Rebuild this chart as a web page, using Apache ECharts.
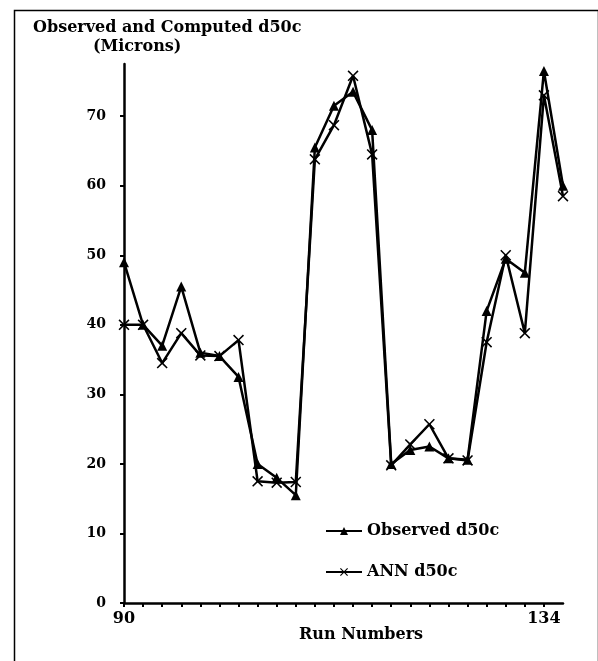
<!DOCTYPE html>
<html>
<head>
<meta charset="utf-8">
<script src="https://cdn.jsdelivr.net/npm/echarts@6/dist/echarts.min.js"></script>
<style>
  html, body { margin: 0; padding: 0; background: #fff; }
  #chart { width: 598px; height: 661px; }
</style>
</head>
<body>
<div id="chart"></div>
<script>
// run numbers (every second run is plotted)
const runs = [90, 92, 94, 96, 98, 100, 102, 104, 106, 108, 110, 112,
  114, 116, 118, 120, 122, 124, 126, 128, 130, 132, 134, 136];
const observed = [49, 40, 37, 45.5, 36, 35.5, 32.5, 20, 18, 15.5, 65.5, 71.5,
  73.5, 68, 20, 22, 22.5, 20.8, 20.6, 42, 49.5, 47.5, 76.5, 60];
const ann = [40, 40, 34.5, 38.8, 35.6, 35.5, 37.8, 17.5, 17.3, 17.4, 63.8, 68.7,
  75.8, 64.5, 19.8, 22.8, 25.7, 20.8, 20.5, 37.5, 50, 38.8, 73, 58.5];
const xLabels = [90, 134];
const yTicks = [0, 10, 20, 30, 40, 50, 60, 70];

const font = 'DejaVu Serif';
const crossSymbol = 'path://M0,1L1,0L5,4L9,0L10,1L6,5L10,9L9,10L5,6L1,10L0,9L4,5Z';

const chart = echarts.init(document.getElementById('chart'));

const textBold = { fontFamily: font, fontWeight: 'bold', fontSize: 16, color: '#000' };

const lineCommon = {
  type: 'line',
  color: '#000',
  lineStyle: { color: '#000', width: 2.5 },
  itemStyle: { color: '#000' },
  emphasis: { disabled: true },
  animation: false,
};

const option = {
  backgroundColor: '#fff',
  title: [
    { text: 'Observed and Computed d50c', left: 28, top: 15, textStyle: textBold },
    { text: '(Microns)', left: 88, top: 34, textStyle: textBold },
    { text: 'Run Numbers', left: 294, top: 622, textStyle: textBold },
  ],
  graphic: [
    { type: 'rect', left: 12, top: 8, shape: { width: 584, height: 680 },
      style: { fill: 'none', stroke: '#000', lineWidth: 1.5 }, silent: true },
  ],
  legend: {
    orient: 'vertical',
    left: 320,
    top: 518,
    itemGap: 25,
    itemWidth: 36,
    itemHeight: 10,
    textStyle: textBold,
    data: ['Observed d50c', 'ANN d50c'],
  },
  grid: { left: 124, right: 35, top: 64, bottom: 58, containLabel: false },
  xAxis: {
    type: 'value',
    min: 90,
    max: 136,
    interval: 2,
    splitLine: { show: false },
    axisLine: { lineStyle: { color: '#000', width: 2.5 } },
    axisTick: { length: 4, lineStyle: { color: '#000', width: 2 } },
    axisLabel: {
      margin: 8,
      color: '#000',
      fontFamily: font,
      fontWeight: 'bold',
      fontSize: 16,
      showMaxLabel: false,
      formatter: (v) => (xLabels.includes(v) ? String(v) : ''),
    },
  },
  yAxis: {
    type: 'value',
    min: 0,
    max: 77.5,
    interval: 10,
    splitLine: { show: false },
    axisLine: { lineStyle: { color: '#000', width: 2.5 } },
    axisTick: { length: 4, lineStyle: { color: '#000', width: 2 } },
    axisLabel: {
      margin: 18,
      color: '#000',
      fontFamily: font,
      fontWeight: 'bold',
      fontSize: 14,
      showMaxLabel: false,
      formatter: (v) => (yTicks.includes(v) ? String(v) : ''),
    },
  },
  series: [
    {
      ...lineCommon,
      name: 'Observed d50c',
      symbol: 'triangle',
      symbolSize: 10,
      data: runs.map((r, i) => [r, observed[i]]),
    },
    {
      ...lineCommon,
      name: 'ANN d50c',
      symbol: crossSymbol,
      symbolSize: 11,
      data: runs.map((r, i) => [r, ann[i]]),
    },
  ],
};

chart.setOption(option);
</script>
</body>
</html>
